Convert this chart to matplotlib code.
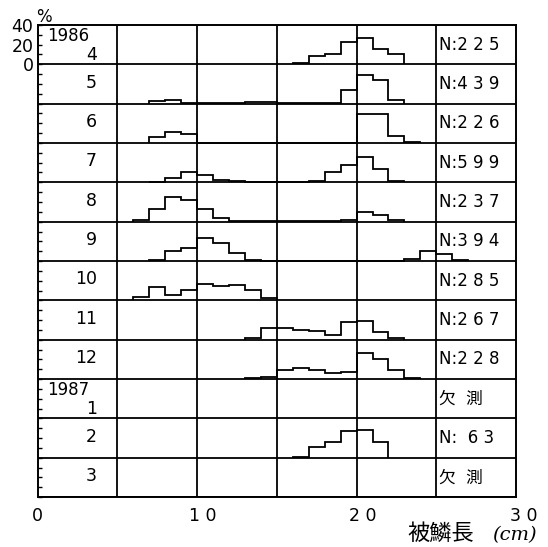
import matplotlib.pyplot as plt
import matplotlib.transforms as mtransforms
import numpy as np

plt.rcParams['font.family'] = ['DejaVu Sans', 'Noto Sans CJK JP']

# month rows, top to bottom
months = ['4', '5', '6', '7', '8', '9', '10', '11', '12', '1', '2', '3']
years = {0: '1986', 9: '1987'}
n_labels = ['N:2 2 5', 'N:4 3 9', 'N:2 2 6', 'N:5 9 9', 'N:2 3 7', 'N:3 9 4',
            'N:2 8 5', 'N:2 6 7', 'N:2 2 8', '欠  測', 'N:  6 3', '欠  測']

# first bin (cm) and frequencies (%) of 1 cm classes
starts = [16, 7, 7, 7, 6, 7, 6, 13, 13, None, 16, None]
apr = [1, 8, 11, 23, 27, 16, 11]
may = [3, 4, 1, 0.5, 1, 1, 1.5, 1.5, 0.5, 0.5, 0.5, 0.5, 14, 29, 24, 4]
jun = [6, 11, 9, 0, 0, 0, 0, 0, 0, 0, 0, 0, 0, 29, 29, 7, 1.5]
jul = [0.5, 4, 11, 7.5, 2, 1.5, 0.5, 0.5, 0.5, 0.5, 1, 10.5, 17.5, 26, 14, 1.5]
aug = [1.5, 12.5, 25, 22.5, 12.5, 4, 1, 0.5, 0.5, 0.5, 0.5, 0.5, 0.5, 2, 10, 7, 1.5]
sep = [1.5, 10, 13, 23, 18, 8, 1.5, 0, 0, 0, 0, 0, 0, 0, 0, 0, 2, 10, 7, 1]
oct_ = [3, 14, 5, 10.5, 17, 15, 16, 10.5, 2]
nov = [2, 12, 12, 10, 9, 5, 17.5, 19, 8, 2]
dec = [1, 2.5, 9, 11, 9, 6, 7, 26, 20, 9, 1.5]
jan = []
feb = [0.5, 11, 16, 27, 28, 16]
mar = []
freqs = [apr, may, jun, jul, aug, sep, oct_, nov, dec, jan, feb, mar]

y_labels = {440: '0', 460: '20', 480: '40'}
x_ticks = [0, 10, 20, 30]
x_ticklabels = ['0', '1 0', '2 0', '3 0']

panel = 40
nrow = len(months)

fig = plt.figure(figsize=(5.48, 5.47), dpi=100)
ax = fig.add_axes([0.0688, 0.0914, 0.8728, 0.8629])
ax.set_xlim(0, 30)
ax.set_ylim(0, panel * nrow)

for i in range(nrow):
    base = (nrow - 1 - i) * panel
    ax.axhline(base, color='k', lw=1.3)
    v = freqs[i]
    if len(v):
        edges = np.arange(starts[i], starts[i] + len(v) + 1)
        ax.stairs(np.array(v) + base, edges, baseline=base, color='k', lw=1.3)
    # month label
    if i in years:
        ax.text(0.6, base + panel - 2.5, years[i], ha='left', va='top', fontsize=12)
        ax.text(3.7, base + 9, months[i], ha='right', va='center', fontsize=12.5)
    else:
        ax.text(3.7, base + panel / 2 + 1.5, months[i], ha='right', va='center', fontsize=12.5)
    ax.text(25.15, base + panel / 2, n_labels[i], ha='left', va='center', fontsize=12)

for xv in [5, 10, 15, 20, 25]:
    ax.axvline(xv, color='k', lw=1.3)

for s in ax.spines.values():
    s.set_linewidth(1.4)

yt = list(range(0, panel * nrow + 1, 10))
ax.set_yticks(yt)
ax.set_yticklabels([y_labels.get(t, '') for t in yt], fontsize=12.5)
ax.tick_params(axis='y', direction='in', length=3, width=1, pad=3)
ax.tick_params(axis='x', length=0, pad=7)
ax.set_xticks(x_ticks)
ax.set_xticklabels(x_ticklabels, fontsize=12.5)
for k, lab in enumerate(ax.get_xticklabels()):
    if k > 0:
        dx = 0.06 + 0.02 * (k == 3)
        lab.set_transform(lab.get_transform() +
                          mtransforms.ScaledTranslation(dx, 0, fig.dpi_scale_trans))

fig.text(0.066, 0.985, '%', ha='left', va='top', fontsize=12)
fig.text(0.744, 0.004, '被鱗長', ha='left', va='bottom', fontsize=16,
         family=['Noto Sans CJK JP'])
fig.text(0.898, 0.006, '(cm)', ha='left', va='bottom', fontsize=14,
         family='DejaVu Serif', style='italic')

fig.savefig('out.png', dpi=100)
